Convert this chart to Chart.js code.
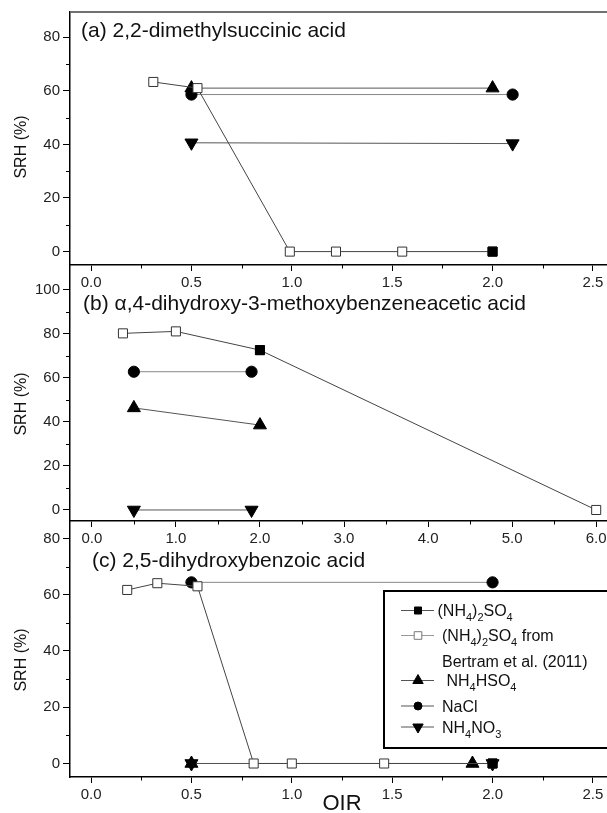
<!DOCTYPE html>
<html>
<head>
<meta charset="utf-8">
<script src="https://cdn.jsdelivr.net/npm/chart.js@4.4.1/dist/chart.umd.min.js"></script>
<style>
  html, body { margin: 0; padding: 0; background: #fff; overflow: hidden; }
  body { width: 607px; height: 813px; position: relative; }
  canvas { position: absolute; left: 0; }
</style>
</head>
<body>
<canvas id="panelA" width="640" height="295" style="top:0px"></canvas>
<canvas id="panelB" width="640" height="296" style="top:255px"></canvas>
<canvas id="panelC" width="640" height="302" style="top:511px"></canvas>
<script>
// ---- data ----
// (a) 2,2-dimethylsuccinic acid
const aSulfateX = [2.0];
const aSulfateY = [0];
const aBertramX = [0.31, 0.53, 0.99, 1.22, 1.55, 2.0];
const aBertramY = [63.3, 61.0, 0, 0, 0, 0];
const aBisulfateX = [0.5, 2.0];
const aBisulfateY = [61.0, 61.0];
const aNaclX = [0.5, 2.1];
const aNaclY = [58.6, 58.6];
const aNitrateX = [0.5, 2.1];
const aNitrateY = [40.6, 40.3];

// (b) alpha,4-dihydroxy-3-methoxybenzeneacetic acid
const bSulfateX = [2.0];
const bSulfateY = [72.5];
const bBertramX = [0.37, 1.0, 2.0, 6.0];
const bBertramY = [80.1, 81.0, 72.5, 0];
const bBisulfateX = [0.5, 2.0];
const bBisulfateY = [46.3, 38.5];
const bNaclX = [0.5, 1.9];
const bNaclY = [62.7, 62.7];
const bNitrateX = [0.5, 1.9];
const bNitrateY = [0, 0];

// (c) 2,5-dihydroxybenzoic acid
const cSulfateX = [2.0];
const cSulfateY = [0];
const cBertramX = [0.18, 0.33, 0.53, 0.81, 1.0, 1.46, 2.0];
const cBertramY = [61.7, 64.1, 63.0, 0, 0, 0, 0];
const cBisulfateX = [0.5, 1.9];
const cBisulfateY = [0, 0];
const cNaclX = [0.5, 2.0];
const cNaclY = [64.4, 64.4];
const cNitrateX = [0.5, 2.0];
const cNitrateY = [0, 0];

// ticks
const xTicksAC = [0, 0.5, 1.0, 1.5, 2.0, 2.5];
const xMinorAC = [0.25, 0.75, 1.25, 1.75, 2.25];
const xTicksB = [0, 1, 2, 3, 4, 5, 6];
const xMinorB = [0.5, 1.5, 2.5, 3.5, 4.5, 5.5];
const yTicksAC = [0, 20, 40, 60, 80];
const yMinorAC = [10, 30, 50, 70];
const yTicksB = [0, 20, 40, 60, 80, 100];
const yMinorB = [10, 30, 50, 70, 90];

const panelTitles = [
  '(a) 2,2-dimethylsuccinic acid',
  '(b) \u03b1,4-dihydroxy-3-methoxybenzeneacetic acid',
  '(c) 2,5-dihydroxybenzoic acid'
];
const yTitle = 'SRH (%)';
const xTitle = 'OIR';
// "_4" means subscript 4
const legendLabels = ['(NH_4)_2SO_4', '(NH_4)_2SO_4 from', 'Bertram et al. (2011)', ' NH_4HSO_4', 'NaCl', 'NH_4NO_3'];

const FONT = '"Liberation Sans", Arial, sans-serif';
const TICK_FONT = { family: FONT, size: 15 };

function pts(xs, ys) {
  return xs.map((x, i) => ({ x: x, y: ys[i] }));
}

function buildDatasets(sx, sy, bx, by, hx, hy, nx, ny, tx, ty) {
  return [
    { label: 'sulfate', data: pts(sx, sy), pointStyle: 'rect', pointRadius: 6.4,
      pointBackgroundColor: '#000', pointBorderColor: '#000', borderColor: '#444' },
    { label: 'bertram', data: pts(bx, by), pointStyle: 'rect', pointRadius: 6.4,
      pointBackgroundColor: '#fff', pointBorderColor: '#333', borderColor: '#444' },
    { label: 'bisulfate', data: pts(hx, hy), pointStyle: 'triangle', pointRadius: 7.5,
      pointBackgroundColor: '#000', pointBorderColor: '#000', borderColor: '#555' },
    { label: 'nacl', data: pts(nx, ny), pointStyle: 'circle', pointRadius: 5.6,
      pointBackgroundColor: '#000', pointBorderColor: '#000', borderColor: '#888' },
    { label: 'nitrate', data: pts(tx, ty), pointStyle: 'triangle', pointRotation: 180, pointRadius: 7.5,
      pointBackgroundColor: '#000', pointBorderColor: '#000', borderColor: '#555' }
  ].map(d => Object.assign({ showLine: true, borderWidth: 1, pointBorderWidth: 1, pointHoverRadius: d.pointRadius }, d));
}

function drawMarker(ctx, kind, x, y, r, fill, stroke) {
  ctx.beginPath();
  if (kind === 'rect') {
    ctx.rect(x - r, y - r, 2 * r, 2 * r);
  } else if (kind === 'circle') {
    ctx.arc(x, y, r, 0, Math.PI * 2);
  } else if (kind === 'up') {
    ctx.moveTo(x, y - r);
    ctx.lineTo(x + r * 0.866, y + r * 0.5);
    ctx.lineTo(x - r * 0.866, y + r * 0.5);
    ctx.closePath();
  } else if (kind === 'down') {
    ctx.moveTo(x, y + r);
    ctx.lineTo(x + r * 0.866, y - r * 0.5);
    ctx.lineTo(x - r * 0.866, y - r * 0.5);
    ctx.closePath();
  }
  ctx.fillStyle = fill;
  ctx.fill();
  ctx.strokeStyle = stroke;
  ctx.lineWidth = 1;
  ctx.stroke();
}

// text with "_n" subscripts
function drawRich(ctx, str, x, y) {
  const parts = str.split(/(_\d)/).filter(p => p.length);
  let cx = x;
  parts.forEach(p => {
    if (p[0] === '_') {
      ctx.font = '11px ' + FONT;
      ctx.fillText(p.slice(1), cx, y + 5);
      cx += ctx.measureText(p.slice(1)).width;
    } else {
      ctx.font = '16px ' + FONT;
      ctx.fillText(p, cx, y);
      cx += ctx.measureText(p).width;
    }
  });
}

const minorTicks = {
  id: 'minorTicks',
  afterDraw(chart, args, o) {
    const { ctx, chartArea, scales } = chart;
    ctx.save();
    ctx.strokeStyle = '#000';
    ctx.lineWidth = 1;
    ctx.beginPath();
    o.x.forEach(v => {
      const px = Math.round(scales.x.getPixelForValue(v)) + 0.5;
      ctx.moveTo(px, chartArea.bottom);
      ctx.lineTo(px, chartArea.bottom + 3.5);
    });
    o.y.forEach(v => {
      const py = Math.round(scales.y.getPixelForValue(v)) + 0.5;
      ctx.moveTo(chartArea.left, py);
      ctx.lineTo(chartArea.left - 4, py);
    });
    ctx.stroke();
    ctx.restore();
  }
};

const panelText = {
  id: 'panelText',
  afterDraw(chart, args, o) {
    const { ctx, chartArea } = chart;
    ctx.save();
    if (o.topFrame) {
      ctx.strokeStyle = '#707070';
      ctx.lineWidth = 2;
      ctx.beginPath();
      ctx.moveTo(chartArea.left, chartArea.top);
      ctx.lineTo(chartArea.right, chartArea.top);
      ctx.stroke();
    }
    ctx.fillStyle = '#111';
    ctx.textBaseline = 'alphabetic';
    ctx.textAlign = 'left';
    ctx.font = '21px ' + FONT;
    ctx.fillText(o.title, o.titleX, o.titleY);
    if (o.xTitle) {
      ctx.font = '22px ' + FONT;
      ctx.textAlign = 'center';
      ctx.fillText(o.xTitle, 342, 299);
    }
    ctx.font = '16px ' + FONT;
    ctx.textAlign = 'center';
    ctx.textBaseline = 'middle';
    ctx.translate(22, o.yTitleY);
    ctx.rotate(-Math.PI / 2);
    ctx.fillText(yTitle, 0, 0);
    ctx.restore();
  }
};

const boxLegend = {
  id: 'boxLegend',
  afterDraw(chart, args, o) {
    if (!o.show) return;
    const ctx = chart.ctx;
    ctx.save();
    ctx.fillStyle = '#fff';
    ctx.fillRect(383, 80, 300, 157);
    ctx.strokeStyle = '#000';
    ctx.lineWidth = 2;
    ctx.strokeRect(384, 80, 300, 157);
    const rows = [
      { y: 99, tx: 437.5, marker: 'rect', r: 3.5, fill: '#000', stroke: '#000', line: '#555' },
      { y: 124, tx: 442, marker: 'rect', r: 3.8, fill: '#fff', stroke: '#777', line: '#999' },
      { y: 150, tx: 442 },
      { y: 169, tx: 442, marker: 'up', r: 6, fill: '#000', stroke: '#000', line: '#555' },
      { y: 194.5, tx: 442, marker: 'circle', r: 4, fill: '#000', stroke: '#000', line: '#555' },
      { y: 215.5, tx: 442, marker: 'down', r: 6, fill: '#000', stroke: '#000', line: '#555' }
    ];
    rows.forEach((row, i) => {
      if (row.marker) {
        ctx.strokeStyle = row.line;
        ctx.lineWidth = 1;
        ctx.beginPath();
        ctx.moveTo(401, row.y + 0.5);
        ctx.lineTo(434, row.y + 0.5);
        ctx.stroke();
        drawMarker(ctx, row.marker, 418, row.y + 0.5, row.r, row.fill, row.stroke);
      }
      ctx.fillStyle = '#111';
      ctx.textAlign = 'left';
      ctx.textBaseline = 'alphabetic';
      drawRich(ctx, legendLabels[i], row.tx, row.y + 6);
    });
    ctx.restore();
  }
};

function makePanel(id, cfg) {
  return new Chart(document.getElementById(id), {
    type: 'scatter',
    data: { datasets: cfg.datasets },
    options: {
      responsive: false,
      animation: false,
      events: [],
      layout: { padding: { top: cfg.padTop, left: 0, right: 27, bottom: 0 } },
      plugins: {
        legend: { display: false },
        tooltip: { enabled: false },
        minorTicks: { x: cfg.xMinor, y: cfg.yMinor },
        panelText: cfg.text,
        boxLegend: { show: !!cfg.legend }
      },
      scales: {
        x: {
          type: 'linear',
          min: cfg.xMin,
          max: cfg.xMax,
          afterBuildTicks: s => { s.ticks = cfg.xTicks.map(v => ({ value: v })); },
          afterFit: s => { s.height = cfg.xHeight; },
          ticks: { callback: v => v.toFixed(1), font: TICK_FONT, color: '#222', padding: 3, maxRotation: 0, autoSkip: false },
          grid: { drawOnChartArea: false, tickLength: 6, tickColor: '#000', tickWidth: 1 },
          border: { color: '#000', width: 1.5 }
        },
        y: {
          type: 'linear',
          min: cfg.yMin,
          max: cfg.yMax,
          afterBuildTicks: s => { s.ticks = cfg.yTicks.map(v => ({ value: v })); },
          afterFit: s => { s.width = 70; },
          ticks: { font: TICK_FONT, color: '#222', padding: 3 },
          grid: { drawOnChartArea: false, tickLength: 7, tickColor: '#000', tickWidth: 1 },
          border: { color: '#000', width: 1.5 }
        }
      }
    },
    plugins: [minorTicks, panelText, boxLegend]
  });
}

makePanel('panelA', {
  datasets: buildDatasets(aSulfateX, aSulfateY, aBertramX, aBertramY, aBisulfateX, aBisulfateY, aNaclX, aNaclY, aNitrateX, aNitrateY),
  padTop: 9, xHeight: 30,
  xMin: -0.105, xMax: 2.6, xTicks: xTicksAC, xMinor: xMinorAC,
  yMin: -5, yMax: 89.4, yTicks: yTicksAC, yMinor: yMinorAC,
  text: { title: panelTitles[0], titleX: 81, titleY: 37, yTitleY: 147, topFrame: true }
});

makePanel('panelB', {
  datasets: buildDatasets(bSulfateX, bSulfateY, bBertramX, bBertramY, bBisulfateX, bBisulfateY, bNaclX, bNaclY, bNitrateX, bNitrateY),
  padTop: 10, xHeight: 30,
  xMin: -0.26, xMax: 6.2, xTicks: xTicksB, xMinor: xMinorB,
  yMin: -5, yMax: 110.2, yTicks: yTicksB, yMinor: yMinorB,
  text: { title: panelTitles[1], titleX: 83, titleY: 55, yTitleY: 149 }
});

makePanel('panelC', {
  datasets: buildDatasets(cSulfateX, cSulfateY, cBertramX, cBertramY, cBisulfateX, cBisulfateY, cNaclX, cNaclY, cNitrateX, cNitrateY),
  padTop: 10, xHeight: 36,
  xMin: -0.105, xMax: 2.6, xTicks: xTicksAC, xMinor: xMinorAC,
  yMin: -4.8, yMax: 85.5, yTicks: yTicksAC, yMinor: yMinorAC,
  text: { title: panelTitles[2], titleX: 92, titleY: 56, yTitleY: 149, xTitle: xTitle },
  legend: true
});
</script>
</body>
</html>
